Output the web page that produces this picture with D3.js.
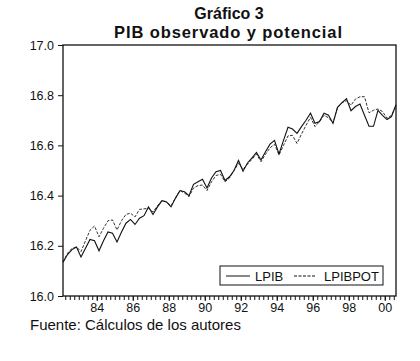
<!DOCTYPE html>
<html>
<head>
<meta charset="utf-8">
<script src="https://cdn.jsdelivr.net/npm/d3@7"></script>
<style>
body { margin:0; background:#fff; }
svg text { font-family: "Liberation Sans", Arial, sans-serif; fill:#111; }
</style>
</head>
<body>
<div id="chart"></div>
<script>
// quarterly data, 1982Q1 - 2000Q3
var firstYear = 1982;
var lpib = [
  16.135, 16.165, 16.185, 16.195,
  16.155, 16.190, 16.225, 16.220,
  16.180, 16.220, 16.255, 16.250,
  16.215, 16.255, 16.290, 16.305,
  16.285, 16.310, 16.320, 16.355,
  16.325, 16.355, 16.380, 16.375,
  16.355, 16.390, 16.420, 16.415,
  16.400, 16.445, 16.455, 16.465,
  16.430, 16.470, 16.495, 16.500,
  16.460, 16.475, 16.500, 16.540,
  16.497, 16.530, 16.550, 16.572,
  16.542, 16.575, 16.605, 16.620,
  16.566, 16.620, 16.672, 16.665,
  16.648, 16.675, 16.700, 16.728,
  16.688, 16.695, 16.728, 16.720,
  16.688, 16.752, 16.770, 16.786,
  16.738, 16.755, 16.765, 16.720,
  16.676, 16.676, 16.740, 16.720,
  16.703, 16.715, 16.762
];
var lpibpot = [
  16.135, 16.170, 16.190, 16.195,
  16.177, 16.220, 16.262, 16.279,
  16.236, 16.270, 16.300, 16.303,
  16.263, 16.300, 16.325, 16.330,
  16.315, 16.345, 16.347, 16.350,
  16.335, 16.360, 16.380, 16.375,
  16.360, 16.390, 16.420, 16.410,
  16.396, 16.430, 16.440, 16.442,
  16.420, 16.455, 16.480, 16.485,
  16.455, 16.470, 16.500, 16.528,
  16.505, 16.525, 16.545, 16.565,
  16.535, 16.565, 16.590, 16.605,
  16.562, 16.600, 16.638, 16.640,
  16.608, 16.645, 16.680, 16.712,
  16.675, 16.695, 16.720, 16.710,
  16.690, 16.750, 16.770, 16.778,
  16.760, 16.785, 16.794, 16.794,
  16.730, 16.740, 16.745, 16.735,
  16.708, 16.720, 16.757
];
var tickYears = [1984, 1986, 1988, 1990, 1992, 1994, 1996, 1998, 2000];
var tickLabels = ["84", "86", "88", "90", "92", "94", "96", "98", "00"];
var yTicks = [16.0, 16.2, 16.4, 16.6, 16.8, 17.0];
var seriesNames = ["LPIB", "LPIBPOT"];

var width = 420, height = 361;
var pLeft = 63, pRight = 396, pTop = 45, pBottom = 296;

var svg = d3.select("#chart").append("svg")
    .attr("width", width)
    .attr("height", height);

var x = d3.scaleLinear()
    .domain([firstYear + 0.125, firstYear + 0.125 + (lpib.length - 1) / 4])
    .range([pLeft, pRight]);

var y = d3.scaleLinear()
    .domain([16.0, 17.0])
    .range([pBottom, pTop]);

function tq(i) { return firstYear + 0.125 + i / 4; }

// titles
svg.append("text").attr("x", 229).attr("y", 19)
    .attr("text-anchor", "middle").style("font-size", "16px").style("font-weight", "bold")
    .text("Gráfico 3");
svg.append("text").attr("x", 228).attr("y", 38)
    .attr("text-anchor", "middle").style("font-size", "16.5px").style("font-weight", "bold")
    .attr("textLength", 228).attr("lengthAdjust", "spacing")
    .text("PIB observado y potencial");

// y axis
var yAxis = d3.axisLeft(y)
    .tickValues(yTicks)
    .tickSize(5)
    .tickPadding(4)
    .tickFormat(d3.format(".1f"));
var gy = svg.append("g").attr("transform", "translate(" + pLeft + ",0)").call(yAxis);
gy.select(".domain").remove();
gy.selectAll("line").attr("stroke", "#111");
gy.selectAll("text").style("font-size", "12.5px").style("font-family", "Liberation Sans, Arial, sans-serif");

// x axis: quarterly minor ticks
var qTicks = [];
for (var k = 1; k < lpib.length; k++) qTicks.push(firstYear + k / 4);
var xAxis = d3.axisBottom(x)
    .tickValues(qTicks)
    .tickSize(4)
    .tickFormat("");
var gx = svg.append("g").attr("transform", "translate(0," + pBottom + ")").call(xAxis);
gx.select(".domain").remove();
gx.selectAll("line").attr("stroke", "#111");

var xLab = d3.axisBottom(x)
    .tickValues(tickYears)
    .tickSize(5)
    .tickPadding(2)
    .tickFormat(function (d, i) { return tickLabels[i]; });
var gx2 = svg.append("g").attr("transform", "translate(0," + pBottom + ")").call(xLab);
gx2.select(".domain").remove();
gx2.selectAll("line").attr("stroke", "#111");
gx2.selectAll("text").style("font-size", "12.5px").style("font-family", "Liberation Sans, Arial, sans-serif");

// frame
svg.append("rect")
    .attr("x", pLeft).attr("y", pTop)
    .attr("width", pRight - pLeft).attr("height", pBottom - pTop)
    .attr("fill", "none").attr("stroke", "#111").attr("stroke-width", 1.3);

var line = d3.line()
    .x(function (d, i) { return x(tq(i)); })
    .y(function (d) { return y(d); });

svg.append("path").datum(lpibpot)
    .attr("d", line)
    .attr("fill", "none")
    .attr("stroke", "#333")
    .attr("stroke-width", 1)
    .attr("stroke-dasharray", "3,1.5");

svg.append("path").datum(lpib)
    .attr("d", line)
    .attr("fill", "none")
    .attr("stroke", "#111")
    .attr("stroke-width", 1.1);

// legend
var lg = svg.append("g");
lg.append("rect").attr("x", 220).attr("y", 266).attr("width", 163).attr("height", 19)
    .attr("fill", "#fff").attr("stroke", "#111").attr("stroke-width", 1);
lg.append("line").attr("x1", 226).attr("x2", 250).attr("y1", 276).attr("y2", 276)
    .attr("stroke", "#111").attr("stroke-width", 1);
lg.append("text").attr("x", 255).attr("y", 281).style("font-size", "13px").text(seriesNames[0]);
lg.append("line").attr("x1", 294).attr("x2", 316).attr("y1", 276).attr("y2", 276)
    .attr("stroke", "#111").attr("stroke-width", 1).attr("stroke-dasharray", "3,1.5");
lg.append("text").attr("x", 324).attr("y", 281).style("font-size", "13px").text(seriesNames[1]);

// source
svg.append("text").attr("x", 30).attr("y", 330)
    .style("font-size", "15px")
    .text("Fuente: Cálculos de los autores");
</script>
</body>
</html>
